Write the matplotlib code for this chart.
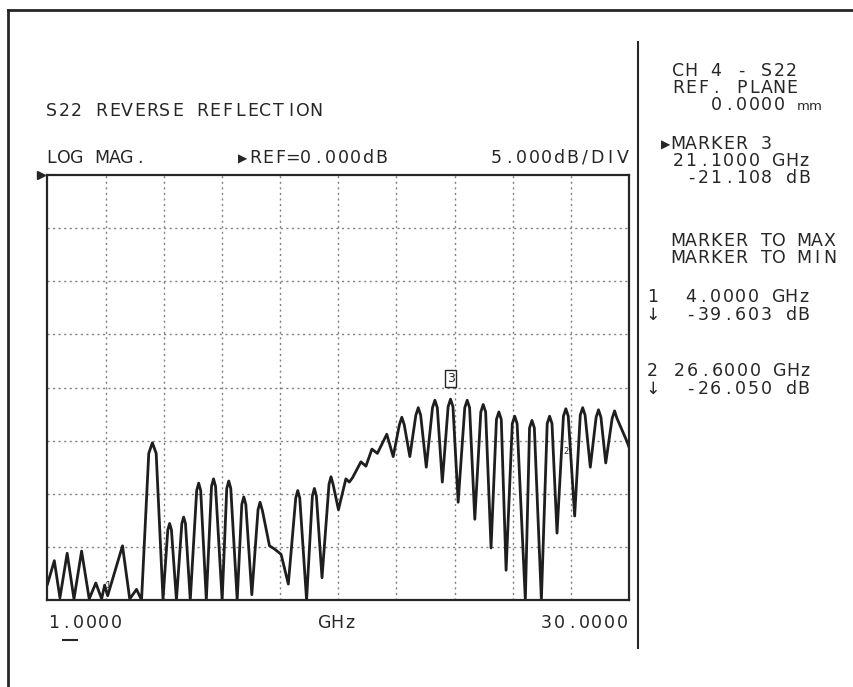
import matplotlib
matplotlib.use("Agg")
import matplotlib.pyplot as plt
from matplotlib.lines import Line2D

W, H = 854, 687
INK = "#262626"

# S22 trace (troughs, peaks and peak shoulders), GHz / dB
freq_ghz = [1.00, 1.34, 1.62, 1.98, 2.32, 2.70, 3.08, 3.41, 3.70, 3.85, 4.00,
            4.74, 5.10, 5.44, 5.69,
            6.05, 6.23, 6.42, 6.76,
            7.00, 7.09, 7.18, 7.43,
            7.70, 7.79, 7.88, 8.12,
            8.44, 8.54, 8.64, 8.92,
            9.18, 9.28, 9.38, 9.71,
            9.94, 10.04, 10.14, 10.46,
            10.69, 10.79, 10.89, 11.19,
            11.50, 11.60, 11.72, 12.07, 12.32, 12.65, 13.01,
            13.38, 13.48, 13.58, 13.92,
            14.21, 14.31, 14.41, 14.69,
            15.04, 15.14, 15.24, 15.51,
            15.88, 16.05, 16.21, 16.63, 16.88, 17.18, 17.45, 17.92, 18.24,
            18.55, 18.67, 18.79, 19.07,
            19.37, 19.49, 19.61, 19.89,
            20.20, 20.32, 20.44, 20.69,
            20.98, 21.10, 21.22, 21.48,
            21.81, 21.93, 22.05, 22.31,
            22.61, 22.73, 22.85, 23.12,
            23.39, 23.51, 23.63, 23.87,
            24.18, 24.30, 24.42, 24.83,
            25.04, 25.16, 25.28, 25.63,
            25.92, 26.04, 26.16, 26.41,
            26.73, 26.85, 26.97, 27.29,
            27.57, 27.69, 27.81, 28.07,
            28.36, 28.48, 28.60, 28.84,
            29.16, 29.28, 29.40, 29.88, 30.00]
s22_db = [-38.5, -36.3, -39.8, -35.6, -39.9, -35.4, -39.9, -38.4, -39.9, -38.6, -39.6,
          -34.9, -39.9, -39.0, -40.0,
          -26.2, -25.2, -26.2, -39.9,
          -33.4, -32.8, -33.4, -40.0,
          -32.8, -32.2, -32.8, -40.0,
          -29.7, -29.0, -29.7, -40.0,
          -29.3, -28.6, -29.3, -40.0,
          -29.5, -28.8, -29.5, -40.0,
          -31.0, -30.3, -31.0, -39.5,
          -31.5, -30.8, -31.6, -34.9, -35.2, -35.7, -38.5,
          -30.4, -29.7, -30.4, -40.0,
          -30.2, -29.5, -30.2, -37.9,
          -29.1, -28.4, -29.1, -31.5,
          -28.6, -28.9, -28.5, -27.0, -27.4, -25.8, -26.2, -24.4, -26.5,
          -23.5, -22.8, -23.5, -26.5,
          -22.6, -21.9, -22.6, -27.5,
          -21.9, -21.2, -21.9, -28.9,
          -21.8, -21.1, -21.8, -30.8,
          -21.9, -21.2, -21.9, -32.4,
          -22.3, -21.6, -22.3, -35.1,
          -23.0, -22.3, -23.0, -37.2,
          -23.4, -22.7, -23.4, -40.0,
          -23.8, -23.1, -23.8, -40.0,
          -23.4, -22.7, -23.4, -33.7,
          -22.7, -22.0, -22.7, -32.1,
          -22.6, -21.9, -22.6, -27.5,
          -22.8, -22.1, -22.8, -27.1,
          -22.9, -22.2, -22.9, -25.0, -25.6]

f_start, f_stop = 1.0, 30.0
ref_db, db_per_div = 0.0, 5.0
n_xdiv, n_ydiv = 10, 8

marker3 = (21.1, -21.108)
marker1 = (4.0, -39.603)
marker2 = (26.6, -26.050)


def fx(x):
    return x / W


def fy(y):
    return 1 - y / H


def line(x0, y0, x1, y1, lw=1.6, color=INK):
    fig.add_artist(Line2D([fx(x0), fx(x1)], [fy(y0), fy(y1)],
                          transform=fig.transFigure, lw=lw, color=color))


def put(x, base, s, size=12.5, pitch=12.6):
    # instrument font: fixed character pitch
    for i, ch in enumerate(s):
        if ch == " ":
            continue
        sz = size * 0.7 if ch == "\u25b6" else size
        fig.text(fx(x + (i + 0.5) * pitch), fy(base), ch, ha="center", va="baseline",
                 fontsize=sz, color=INK, family="DejaVu Sans")


fig = plt.figure(figsize=(W / 100, H / 100), dpi=100)
ax = fig.add_axes([fx(47.5), fy(600), (629 - 47.5) / W, (600 - 175) / H])

ax.set_xlim(f_start, f_stop)
ax.set_ylim(ref_db - n_ydiv * db_per_div, ref_db)
step = (f_stop - f_start) / n_xdiv
ax.set_xticks([f_start + i * step for i in range(1, n_xdiv)])
ax.set_yticks([ref_db - i * db_per_div for i in range(1, n_ydiv)])
ax.tick_params(length=0, labelbottom=False, labelleft=False)
ax.grid(True, color="#808080", lw=1.0, linestyle=(0, (1.5, 2.5)))
for sp in ax.spines.values():
    sp.set_linewidth(1.6)
    sp.set_color(INK)

ax.plot(freq_ghz, s22_db, color="#1e1e1e", lw=2.0, solid_joinstyle="round")

# reference position arrow on the left
ax.plot([-0.011], [ref_db], marker=">", ms=6, color=INK,
        transform=ax.get_yaxis_transform(), clip_on=False)

# marker symbols
ax.annotate("3", xy=marker3, xytext=(0, 15), textcoords="offset points",
            ha="center", va="center", fontsize=9, color=INK,
            bbox=dict(boxstyle="square,pad=0.15", fc="white", ec=INK, lw=1))
ax.annotate("1", xy=marker1, xytext=(0, 4), textcoords="offset points",
            ha="center", va="bottom", fontsize=6, color=INK)
ax.annotate("2", xy=marker2, xytext=(2, 0), textcoords="offset points",
            ha="left", va="center", fontsize=6, color=INK)

# frame and divider
line(8, 10, W, 10, lw=2.0)
line(8, 10, 8, H, lw=2.0)
line(638, 42, 638, 648, lw=1.5)
line(63, 640, 77, 640, lw=1.5)

put(45, 116, "S22 REVERSE REFLECTION")
put(45, 163, "LOG MAG.")
put(236, 163, "\u25b6REF=0.000dB")
put(490, 163, "5.000dB/DIV")

put(47, 628, "1.0000")
put(318, 628, "GHz")
put(540, 628, "30.0000")

put(672, 76, "CH 4 - S22")
put(672, 93, "REF. PLANE")
put(672, 110, "   0.0000")
put(797, 110, "mm", size=9.5, pitch=12)
put(659.4, 149, "\u25b6MARKER 3")
put(672, 166, "21.1000 GHz")
put(672, 183, " -21.108 dB")
put(672, 246, "MARKER TO MAX")
put(672, 263, "MARKER TO MIN")
put(646, 302, "1")
put(684, 302, "4.0000 GHz")
put(646, 320, "\u2193")
put(684, 320, "-39.603 dB")
put(646, 376, "2")
put(673, 376, "26.6000 GHz")
put(646, 394, "\u2193")
put(684, 394, "-26.050 dB")

fig.savefig("out.png", dpi=100)
